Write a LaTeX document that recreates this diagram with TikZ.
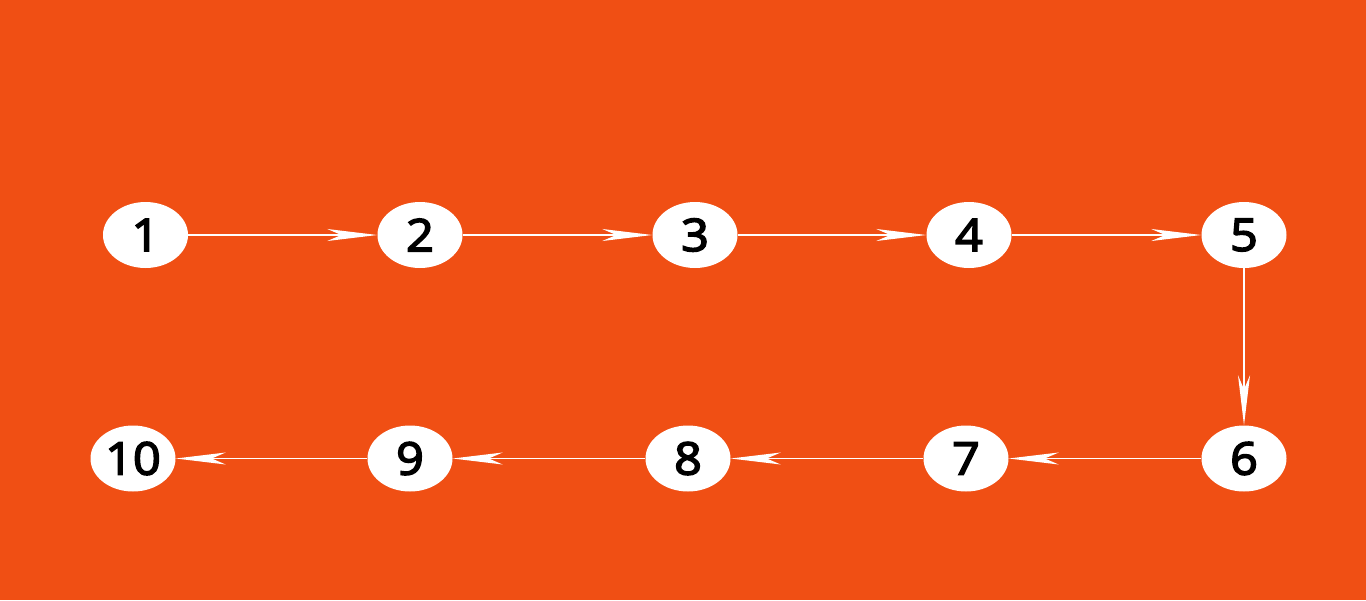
\documentclass[tikz,border=0pt]{standalone}
\usepackage{fontspec}
\setmainfont{Open Sans}
\newfontfamily\numfont{Open Sans}[FakeBold=3.5,FakeStretch=1.08]
\usetikzlibrary{arrows.meta,shapes.geometric}
\definecolor{bg}{HTML}{F04F14}
\begin{document}
\begin{tikzpicture}[x=1pt,y=-1pt,
  nd/.style={ellipse,fill=white,draw=none,minimum width=85pt,minimum height=66pt,inner sep=0pt,font=\numfont\fontsize{45}{45}\selectfont,text=black},
  arr/.style={draw=white,line width=1.5pt,-{Stealth[length=50pt,width=12pt,inset=14pt]}}]
\fill[bg] (0,0) rectangle (1366,600);
\useasboundingbox (0,0) rectangle (1366,600);
\node[nd] (n1) at (145.5,235) {1};
\node[nd] (n2) at (420,235) {2};
\node[nd] (n3) at (695,235) {3};
\node[nd] (n4) at (969,235) {4};
\node[nd] (n5) at (1244,235) {5};
\node[nd] (n6) at (1244,458.5) {6};
\node[nd] (n7) at (966,458.5) {7};
\node[nd] (n8) at (688,458.5) {8};
\node[nd] (n9) at (410,458.5) {9};
\node[nd] (n10) at (133,458.5) {10};
\draw[arr] (n1) -- (n2);
\draw[arr] (n2) -- (n3);
\draw[arr] (n3) -- (n4);
\draw[arr] (n4) -- (n5);
\draw[arr] (n5) -- (n6);
\draw[arr] (n6) -- (n7);
\draw[arr] (n7) -- (n8);
\draw[arr] (n8) -- (n9);
\draw[arr] (n9) -- (n10);
\end{tikzpicture}
\end{document}
